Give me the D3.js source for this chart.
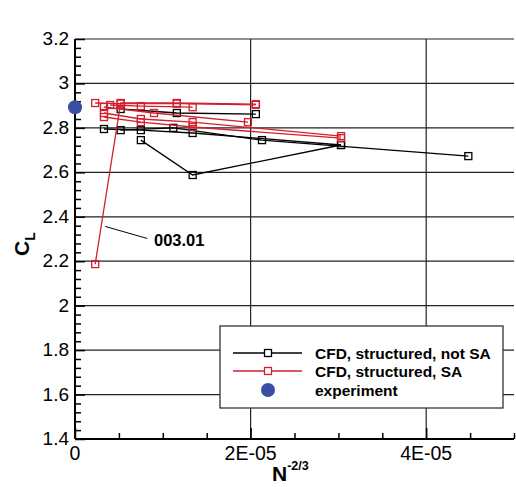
<!DOCTYPE html>
<html>
<head>
<meta charset="utf-8">
<script src="https://cdn.jsdelivr.net/npm/d3@7"></script>
<style>
  html, body { margin: 0; padding: 0; background: #fff; }
  svg { display: block; font-family: "Liberation Sans", Arial, Helvetica, sans-serif; }
</style>
</head>
<body>
<div id="chart"></div>
<script>
// Grid-convergence study: lift coefficient vs. N^(-2/3)

// Viscous models without SA, one array per grid family / run
const notSA_1 = [[3.3e-6, 2.795], [7.5e-6, 2.790], [13.4e-6, 2.777], [30.3e-6, 2.723]];
const notSA_2 = [[5.2e-6, 2.790], [11.2e-6, 2.800], [21.3e-6, 2.745], [44.8e-6, 2.673]];
const notSA_3 = [[7.5e-6, 2.745], [13.4e-6, 2.588], [30.3e-6, 2.723]];
const notSA_4 = [[5.2e-6, 2.885], [11.6e-6, 2.867], [20.6e-6, 2.862]];

// SA turbulence model runs
const sa_1 = [[2.3e-6, 2.187], [5.2e-6, 2.912], [11.6e-6, 2.912], [20.6e-6, 2.907]]; // case 003.01
const sa_2 = [[2.3e-6, 2.912], [5.2e-6, 2.909], [11.6e-6, 2.909], [20.6e-6, 2.904]];
const sa_3 = [[4.0e-6, 2.903], [7.5e-6, 2.898], [13.4e-6, 2.893]];
const sa_4 = [[3.3e-6, 2.894], [9.0e-6, 2.867], [19.7e-6, 2.826]];
const sa_5 = [[3.3e-6, 2.867], [7.5e-6, 2.840], [13.4e-6, 2.826], [30.3e-6, 2.763]];
const sa_6 = [[3.3e-6, 2.849], [7.5e-6, 2.826], [13.4e-6, 2.804], [30.3e-6, 2.754]];

// Wind-tunnel measurement
const experiment = [[0, 2.893]];

// Axis ticks and labels
const xMajorTicks = [0, 2e-5, 4e-5];
const xTickLabels = ["0", "2E-05", "4E-05"];
const yMajorTicks = [1.4, 1.6, 1.8, 2.0, 2.2, 2.4, 2.6, 2.8, 3.0, 3.2];
const yTickLabels = ["1.4", "1.6", "1.8", "2", "2.2", "2.4", "2.6", "2.8", "3", "3.2"];

const legendLabels = ["CFD, structured, not SA", "CFD, structured, SA", "experiment"];
const annotationText = "003.01";

const notSASeries = [notSA_1, notSA_2, notSA_3, notSA_4];
const saSeries = [sa_1, sa_2, sa_3, sa_4, sa_5, sa_6];

const W = 516, H = 487;
const RED = "#d3202f", BLACK = "#000", BLUE = "#3b4ea3";

const x = d3.scaleLinear().domain([0, 5e-5]).range([75, 514]);
const y = d3.scaleLinear().domain([1.4, 3.2]).range([439, 39]);

const svg = d3.select("#chart").append("svg").attr("width", W).attr("height", H);

// horizontal grid
svg.append("g").selectAll("line").data(yMajorTicks.slice(1)).join("line")
  .attr("x1", x(0)).attr("x2", x(5e-5))
  .attr("y1", d => y(d)).attr("y2", d => y(d))
  .attr("stroke", "#222").attr("stroke-width", 1.2);
// vertical grid
svg.append("g").selectAll("line").data(xMajorTicks.slice(1)).join("line")
  .attr("x1", d => x(d)).attr("x2", d => x(d))
  .attr("y1", y(1.4)).attr("y2", y(3.2))
  .attr("stroke", "#222").attr("stroke-width", 1.2);

// axes with inward ticks
const xAxis = d3.axisTop(x).tickValues(d3.range(0, 5.01e-5, 5e-6)).tickSize(6).tickFormat("");
const gx = svg.append("g").attr("transform", `translate(0,${y(1.4)})`).call(xAxis);
gx.selectAll(".tick line").filter(d => xMajorTicks.some(m => Math.abs(m - d) < 1e-9)).attr("y2", -11);
gx.select(".domain").attr("d", `M${x(0)},0H${x(5e-5)}`).attr("stroke-width", 2);
gx.selectAll(".tick line").attr("stroke-width", 1.5);

const yAxis = d3.axisRight(y).tickValues(d3.range(1.4, 3.2001, 0.04)).tickSize(6).tickFormat("");
const gy = svg.append("g").attr("transform", `translate(${x(0)},0)`).call(yAxis);
gy.selectAll(".tick line").filter(d => yMajorTicks.some(m => Math.abs(m - d) < 1e-6)).attr("x2", 10);
gy.select(".domain").attr("d", `M0,${y(1.4)}V${y(3.2)}`).attr("stroke-width", 2);
gy.selectAll(".tick line").attr("stroke-width", 1.5);

// tick labels
svg.append("g").selectAll("text").data(xMajorTicks).join("text")
  .attr("x", d => x(d)).attr("y", 460)
  .attr("text-anchor", "middle").attr("font-size", 19.5)
  .text((d, i) => xTickLabels[i]);
svg.append("g").selectAll("text").data(yMajorTicks).join("text")
  .attr("x", 69).attr("y", d => y(d) + 6)
  .attr("text-anchor", "end").attr("font-size", 19)
  .text((d, i) => yTickLabels[i]);

// axis titles
const xt = svg.append("text").attr("x", 272).attr("y", 481).attr("font-size", 21).attr("font-weight", "bold");
xt.append("tspan").text("N");
xt.append("tspan").attr("dy", -11).attr("font-size", 12.5).text("-2/3");

const yt = svg.append("text").attr("transform", "translate(29,256) rotate(-90)")
  .attr("font-size", 21).attr("font-weight", "bold");
yt.append("tspan").text("C");
yt.append("tspan").attr("dy", 6).attr("font-size", 14).text("L");

// data
const line = d3.line().x(d => x(d[0])).y(d => y(d[1]));
const S = 7;

function drawSeries(list, color) {
  const g = svg.append("g");
  list.forEach(s => {
    g.append("path").attr("d", line(s)).attr("fill", "none")
      .attr("stroke", color).attr("stroke-width", 1.3);
    g.selectAll(null).data(s).join("rect")
      .attr("x", d => x(d[0]) - S / 2).attr("y", d => y(d[1]) - S / 2)
      .attr("width", S).attr("height", S)
      .attr("fill", "none").attr("stroke", color).attr("stroke-width", 1.3);
  });
}
drawSeries(notSASeries, BLACK);
drawSeries(saSeries, RED);

svg.append("g").selectAll("circle").data(experiment).join("circle")
  .attr("cx", d => x(d[0])).attr("cy", d => y(d[1])).attr("r", 7)
  .attr("fill", BLUE);

// annotation for case 003.01
const lowPt = sa_1[0];
svg.append("line").attr("x1", x(lowPt[0]) + 10).attr("y1", y(2.19) - 37)
  .attr("x2", x(lowPt[0]) + 52).attr("y2", y(2.19) - 25)
  .attr("stroke", BLACK).attr("stroke-width", 1);
svg.append("text").attr("x", 154).attr("y", 246).attr("font-size", 16.5).attr("font-weight", "bold")
  .text(annotationText);

// legend
const lg = svg.append("g");
lg.append("rect").attr("x", 220).attr("y", 326).attr("width", 283).attr("height", 82)
  .attr("fill", "#fff").attr("stroke", "#333").attr("stroke-width", 1.3);
const rows = [353, 371, 390];
[BLACK, RED].forEach((c, i) => {
  lg.append("line").attr("x1", 233).attr("x2", 302).attr("y1", rows[i]).attr("y2", rows[i])
    .attr("stroke", c).attr("stroke-width", 1.3);
  lg.append("rect").attr("x", 268 - S / 2).attr("y", rows[i] - S / 2).attr("width", S).attr("height", S)
    .attr("fill", "#fff").attr("stroke", c).attr("stroke-width", 1.3);
});
lg.append("circle").attr("cx", 268).attr("cy", rows[2]).attr("r", 7).attr("fill", BLUE);
lg.selectAll("text.lab").data(legendLabels).join("text")
  .attr("x", 315).attr("y", (d, i) => rows[i] + 5.5)
  .attr("font-size", 15.5).attr("font-weight", "bold").text(d => d);
</script>
</body>
</html>
